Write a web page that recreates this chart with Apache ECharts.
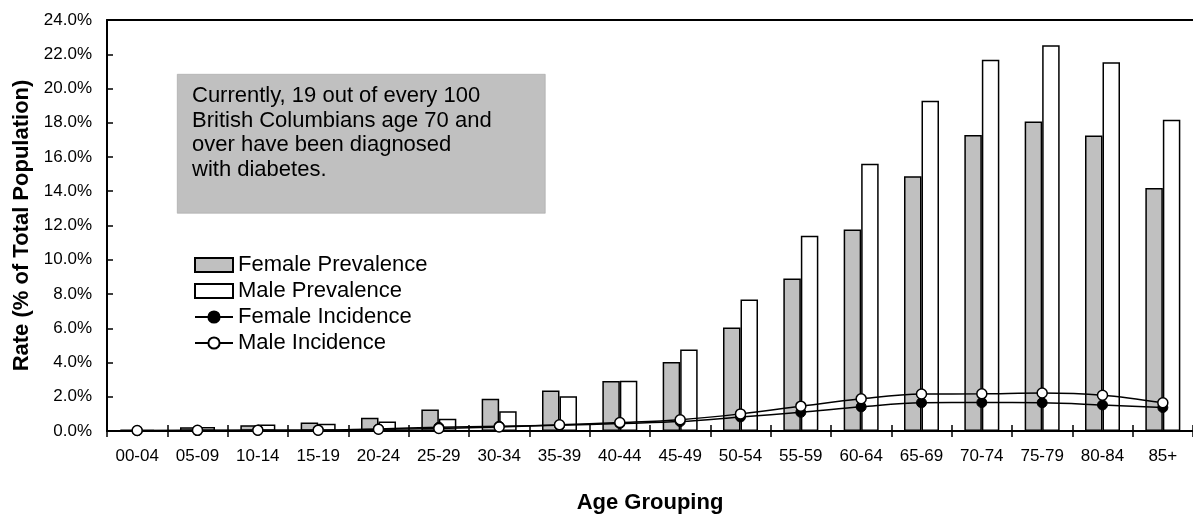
<!DOCTYPE html>
<html>
<head>
<meta charset="utf-8">
<script src="https://cdn.jsdelivr.net/npm/echarts@6/dist/echarts.min.js"></script>
<style>
html,body{margin:0;padding:0;background:#fff;overflow:hidden;}
#chart{width:1193px;height:519px;}
</style>
</head>
<body>
<div id="chart"></div>
<script>
var categories = ['00-04','05-09','10-14','15-19','20-24','25-29','30-34','35-39','40-44','45-49','50-54','55-59','60-64','65-69','70-74','75-79','80-84','85+'];
var femalePrevalence = [0.08,0.22,0.34,0.50,0.78,1.25,1.88,2.37,2.92,4.03,6.04,8.90,11.76,14.87,17.28,18.07,17.26,14.19];
var malePrevalence   = [0.07,0.24,0.38,0.43,0.55,0.72,1.16,2.03,2.94,4.76,7.68,11.40,15.60,19.29,21.68,22.53,21.53,18.18];
var femaleIncidence  = [0.02,0.03,0.04,0.05,0.12,0.22,0.28,0.33,0.44,0.55,0.82,1.09,1.41,1.65,1.66,1.65,1.52,1.37];
var maleIncidence    = [0.03,0.04,0.05,0.05,0.10,0.15,0.24,0.36,0.49,0.66,1.00,1.45,1.88,2.16,2.17,2.22,2.09,1.65];
var yTicks = {min:0, max:24, interval:2};
var noteLines = ['Currently, 19 out of every 100','British Columbians age 70 and','over have been diagnosed','with diabetes.'];

var FONT = '"Liberation Sans", Arial, sans-serif';
var chart = echarts.init(document.getElementById('chart'), null, {renderer:'canvas'});
chart.setOption({
  animation:false,
  textStyle:{fontFamily:FONT, color:'#000'},
  grid:{left:107, top:20, right:-6, bottom:73},
  legend:{
    orient:'vertical', left:189, top:249, itemWidth:38, itemHeight:14, itemGap:4,
    textStyle:{fontFamily:FONT, fontSize:22, color:'#000', lineHeight:22},
    data:[
      {name:'Female Prevalence', icon:'rect'},
      {name:'Male Prevalence', icon:'rect'},
      {name:'Female Incidence'},
      {name:'Male Incidence'}
    ]
  },
  xAxis:[{
    type:'category', data:categories, position:'bottom',
    axisLine:{lineStyle:{color:'#000', width:2}},
    axisTick:{show:true, length:6, lineStyle:{color:'#000', width:1.5}},
    axisLabel:{fontFamily:FONT, fontSize:17, color:'#000', margin:17},
    name:'Age Grouping', nameLocation:'middle', nameGap:61,
    nameTextStyle:{fontFamily:FONT, fontSize:22, fontWeight:'bold', color:'#000'}
  },{
    type:'category', data:categories, position:'bottom',
    axisLine:{show:false}, axisLabel:{show:false},
    axisTick:{show:true, inside:true, length:6, lineStyle:{color:'#000', width:1.5}}
  },{
    type:'category', data:categories, position:'top',
    axisLine:{show:true, lineStyle:{color:'#000', width:2}},
    axisTick:{show:false}, axisLabel:{show:false}
  }],
  yAxis:{
    type:'value', min:yTicks.min, max:yTicks.max, interval:yTicks.interval,
    splitLine:{show:false},
    axisLine:{show:true, lineStyle:{color:'#000', width:2}},
    axisTick:{show:true, inside:true, length:6, lineStyle:{color:'#000', width:1.5}},
    axisLabel:{fontFamily:FONT, fontSize:17, color:'#000', margin:15,
      formatter:function(v){return v.toFixed(1)+'%';}},
    name:'Rate (% of Total Population)', nameLocation:'middle', nameGap:74,
    nameTextStyle:{fontFamily:FONT, fontSize:22, fontWeight:'bold', color:'#000'}
  },
  series:[{
    name:'Female Prevalence', type:'bar', data:femalePrevalence,
    barWidth:17.5, barGap:'0%',
    itemStyle:{color:'#c0c0c0', borderColor:'#000', borderWidth:1.5}
  },{
    name:'Male Prevalence', type:'bar', data:malePrevalence,
    barWidth:17.5, barGap:'0%',
    itemStyle:{color:'#ffffff', borderColor:'#000', borderWidth:1.5}
  },{
    name:'Female Incidence', type:'line', data:femaleIncidence, smooth:0.35,
    symbol:'circle', symbolSize:10, z:5,
    lineStyle:{color:'#000', width:1.5},
    itemStyle:{color:'#000', borderColor:'#000', borderWidth:1}
  },{
    name:'Male Incidence', type:'line', data:maleIncidence, smooth:0.35,
    symbol:'circle', symbolSize:10, z:6,
    lineStyle:{color:'#000', width:1.5},
    itemStyle:{color:'#fff', borderColor:'#000', borderWidth:1.5}
  }],
  graphic:[{
    type:'rect', left:177, top:74, z:1,
    shape:{width:368, height:139},
    style:{fill:'#c0c0c0', stroke:'#999', lineWidth:0.5}
  },{
    type:'text', left:192, top:84, z:2,
    style:{text:noteLines.join('\n'), font:'22px "Liberation Sans", Arial, sans-serif', fill:'#000', lineHeight:24.5}
  }]
});
</script>
</body>
</html>
